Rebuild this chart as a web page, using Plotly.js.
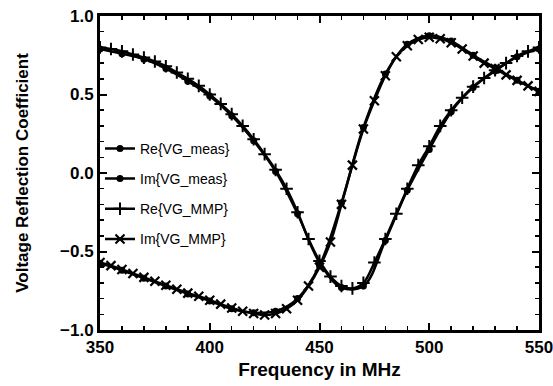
<!DOCTYPE html>
<html>
<head>
<meta charset="utf-8">
<script src="https://cdn.plot.ly/plotly-3.0.1.min.js"></script>
<style>html,body{margin:0;padding:0;background:#fff;}#chart{width:553px;height:386px;}</style>
</head>
<body>
<div id="chart"></div>
<script>
// Measured data (every 10 MHz)
var freqMeas = [350,360,370,380,390,400,410,420,430,440,450,460,470,480,490,500,510,520,530,540,550];
var reMeas = [0.79,0.76,0.725,0.665,0.585,0.49,0.365,0.205,0.01,-0.26,-0.57,-0.73,-0.72,-0.43,-0.11,0.15,0.39,0.545,0.65,0.74,0.79];
var imMeas = [-0.575,-0.62,-0.67,-0.72,-0.77,-0.815,-0.865,-0.89,-0.88,-0.80,-0.59,-0.19,0.29,0.63,0.82,0.875,0.84,0.75,0.67,0.59,0.52];

// MMP simulation data (every 5 MHz)
var freqMMP = [350,355,360,365,370,375,380,385,390,395,400,405,410,415,420,425,430,435,440,445,450,455,460,465,470,475,480,485,490,495,500,505,510,515,520,525,530,535,540,545,550];
var reMMP = [0.80,0.79,0.775,0.755,0.735,0.71,0.68,0.64,0.60,0.555,0.50,0.44,0.375,0.30,0.215,0.12,0.02,-0.10,-0.25,-0.42,-0.56,-0.66,-0.72,-0.735,-0.70,-0.57,-0.42,-0.26,-0.10,0.05,0.17,0.30,0.40,0.48,0.55,0.605,0.655,0.70,0.745,0.775,0.80];
var imMMP = [-0.57,-0.59,-0.615,-0.64,-0.665,-0.69,-0.715,-0.74,-0.765,-0.785,-0.81,-0.835,-0.86,-0.88,-0.895,-0.905,-0.895,-0.865,-0.81,-0.72,-0.60,-0.44,-0.20,0.05,0.28,0.46,0.62,0.74,0.81,0.85,0.865,0.855,0.83,0.79,0.745,0.70,0.665,0.625,0.59,0.555,0.52];

var names = ['Re{VG_meas}','Im{VG_meas}','Re{VG_MMP}','Im{VG_MMP}'];

var black = '#000';
var traces = [
  {x: freqMeas, y: reMeas, name: names[0], legendgroup: 'a', mode: 'lines+markers',
   line: {color: black, width: 2.5, shape: 'spline'}, marker: {symbol: 'circle', size: 7, color: black}},
  {x: freqMeas, y: imMeas, name: names[1], legendgroup: 'b', mode: 'lines+markers',
   line: {color: black, width: 2.5, shape: 'spline'}, marker: {symbol: 'circle', size: 7, color: black}},
  {x: freqMMP, y: reMMP, name: names[2], legendgroup: 'c', mode: 'lines+markers',
   line: {color: black, width: 2.5, shape: 'spline'}, marker: {symbol: 'cross-thin', size: 9, color: black, line: {color: black, width: 2}}},
  {x: freqMMP, y: imMMP, name: names[3], legendgroup: 'd', mode: 'lines+markers',
   line: {color: black, width: 2.5, shape: 'spline'}, marker: {symbol: 'x-thin', size: 9, color: black, line: {color: black, width: 2.2}}}
];

var fam = 'Liberation Sans, Arial, sans-serif';
var layout = {
  width: 553, height: 386,
  margin: {l: 100, r: 14, t: 16, b: 56},
  paper_bgcolor: '#fff', plot_bgcolor: '#fff',
  showlegend: true,
  legend: {x: 0.0, y: 0.628, xanchor: 'left', yanchor: 'top', bgcolor: 'rgba(0,0,0,0)',
           font: {family: fam, size: 14, color: black}, tracegroupgap: 9, itemwidth: 30},
  xaxis: {
    range: [350, 550], dtick: 50, tick0: 350,
    ticks: 'inside', ticklen: 7, tickwidth: 2, tickcolor: black,
    minor: {dtick: 10, ticks: 'inside', ticklen: 4, tickwidth: 1.5, tickcolor: black},
    mirror: 'allticks', showline: true, linewidth: 3, linecolor: black,
    showgrid: false, zeroline: false, ticklabeloverflow: 'allow',
    tickfont: {family: fam, size: 17, color: black, weight: 'bold'},
    title: {text: 'Frequency in MHz', font: {family: fam, size: 19, color: black, weight: 'bold'}, standoff: 7}
  },
  yaxis: {
    range: [-1, 1], dtick: 0.5, tick0: -1, tickformat: '.1f',
    ticks: 'inside', ticklen: 7, tickwidth: 2, tickcolor: black,
    minor: {dtick: 0.1, ticks: 'inside', ticklen: 4, tickwidth: 1.5, tickcolor: black},
    mirror: 'allticks', showline: true, linewidth: 3, linecolor: black,
    showgrid: false, zeroline: false,
    tickfont: {family: fam, size: 17, color: black, weight: 'bold'},
    title: {text: 'Voltage Reflection Coefficient', font: {family: fam, size: 17, color: black, weight: 'bold'}, standoff: 28}
  }
};

Plotly.newPlot('chart', traces, layout, {displayModeBar: false, staticPlot: true});
</script>
</body>
</html>
